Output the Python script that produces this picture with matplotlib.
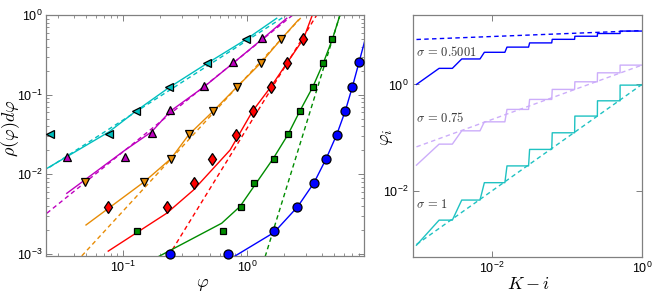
import numpy as np
import matplotlib
matplotlib.use('Agg')
import matplotlib.pyplot as plt
from matplotlib.ticker import NullLocator, FixedLocator

plt.rcParams['font.family'] = ['Liberation Sans', 'DejaVu Sans']

# ---------------- left panel data ----------------
cyan_x = [0.026, 0.077, 0.127, 0.234, 0.479, 0.976]
cyan_y = [0.0317, 0.032, 0.0622, 0.126, 0.252, 0.499]
mag_x = [0.0352, 0.104, 0.170, 0.241, 0.45, 0.776, 1.33]
mag_y = [0.0164, 0.0164, 0.0325, 0.064, 0.128, 0.256, 0.51]
org_x = [0.0497, 0.148, 0.244, 0.340, 0.535, 0.826, 1.30, 1.88]
org_y = [0.0079, 0.0080, 0.0157, 0.0317, 0.0622, 0.124, 0.252, 0.495]
red_x = [0.0753, 0.225, 0.376, 0.519, 0.815, 1.11, 1.55, 2.11, 2.85]
red_y = [0.0039, 0.0039, 0.0078, 0.0157, 0.031, 0.0622, 0.124, 0.252, 0.5]
grn_x = [0.129, 0.644, 0.889, 1.145, 1.65, 2.15, 2.68, 3.39, 4.08, 4.87]
grn_y = [0.00195, 0.00195, 0.0039, 0.0078, 0.0157, 0.0317, 0.0625, 0.124, 0.252, 0.5]
blu_x = [0.239, 0.699, 1.65, 2.55, 3.47, 4.34, 5.29, 6.21, 7.07, 8.0]
blu_y = [0.00098, 0.00098, 0.00195, 0.0039, 0.0078, 0.0157, 0.0314, 0.0627, 0.125, 0.254]

# solid fits
cyan_fx = [0.0243, 0.077, 0.127, 0.234, 0.479, 0.976, 1.735]
cyan_fy = [0.0118, 0.034, 0.062, 0.122, 0.248, 0.49, 0.91]
mag_fx = [0.0352, 0.104, 0.170, 0.241, 0.45, 0.776, 1.33, 2.09]
mag_fy = [0.00575, 0.0201, 0.034, 0.062, 0.125, 0.25, 0.5, 0.91]
org_fx = [0.0503, 0.148, 0.244, 0.340, 0.535, 0.826, 1.30, 1.88, 2.59]
org_fy = [0.0023, 0.008, 0.0157, 0.0315, 0.0622, 0.124, 0.252, 0.495, 0.865]
red_fx = [0.076, 0.225, 0.369, 0.73, 1.11, 1.55, 2.11, 2.85, 3.34]
red_fy = [0.00108, 0.00323, 0.0063, 0.0201, 0.0622, 0.124, 0.252, 0.5, 0.97]
grn_fx = [0.165, 0.625, 0.878, 1.63, 2.14, 2.68, 3.39, 4.12, 4.87, 5.62]
grn_fy = [0.00081, 0.00242, 0.00393, 0.0158, 0.0315, 0.063, 0.1245, 0.249, 0.492, 1.0]
blu_fx = [0.757, 1.65, 2.55, 3.47, 4.36, 5.29, 6.21, 7.07, 8.0, 9.12]
blu_fy = [0.00089, 0.00185, 0.00387, 0.0078, 0.0158, 0.0314, 0.0627, 0.125, 0.254, 0.545]

# dashed asymptotes
cyan_dx, cyan_dy = [0.02, 2.09], [0.00957, 1.0]
mag_dx, mag_dy = [0.0243, 2.34], [0.00323, 1.0]
org_dx, org_dy = [0.0465, 2.85], [0.00094, 1.0]
red_dx, red_dy = [0.232, 3.65], [0.00093, 1.0]
grn_dx, grn_dy = [1.40, 5.62], [0.00092, 1.0]

# ---------------- right panel data ----------------
k_x = [0.001, 0.002, 0.003, 0.004, 0.007, 0.008, 0.015, 0.016, 0.031, 0.032,
       0.063, 0.064, 0.127, 0.128, 0.255, 0.256, 0.511, 0.512, 1.0]
lev_blue = [1, 2, 3, 4, 5, 6, 7, 8, 9, 10]
lev_lav = [0.0307, 0.076, 0.135, 0.199, 0.34, 0.523, 0.806, 1.12, 1.65, 2.30]
lev_cyan = [0.00097, 0.00286, 0.0068, 0.0144, 0.0297, 0.0605, 0.124, 0.255, 0.493, 0.97]
dash_x = [0.001, 1.0]
dash_blue = [6.95, 10.2]
dash_lav = [0.0676, 2.30]
dash_cyan = [0.001, 1.0]


def steps(levels):
    lv = np.asarray(levels, dtype=float)
    return np.concatenate([[lv[0]], np.repeat(lv[1:], 2)])


C_CYAN = (0.0, 0.75, 0.75)
C_MAG = (0.75, 0.0, 0.75)
C_ORG = (0.91, 0.55, 0.02)
C_RED = (1.0, 0.0, 0.0)
C_GRN = (0.0, 0.55, 0.0)
C_BLU = (0.0, 0.0, 1.0)
C_LAV = (0.80, 0.68, 0.98)
C_CY2 = (0.12, 0.76, 0.76)
SPINE = '#808080'

fig = plt.figure(figsize=(6.54, 3.0), dpi=100)
axL = fig.add_axes([0.0711, 0.1467, 0.4855, 0.8033])
axR = fig.add_axes([0.631, 0.1443, 0.3506, 0.8057])

dash = (3.2, 2.4)
lw = 1.0
series = [
    (cyan_x, cyan_y, cyan_fx, cyan_fy, cyan_dx, cyan_dy, C_CYAN, '<', 6.3),
    (mag_x, mag_y, mag_fx, mag_fy, mag_dx, mag_dy, C_MAG, '^', 6.3),
    (org_x, org_y, org_fx, org_fy, org_dx, org_dy, C_ORG, 'v', 6.3),
    (red_x, red_y, red_fx, red_fy, red_dx, red_dy, C_RED, 'd', 6.3),
    (grn_x, grn_y, grn_fx, grn_fy, grn_dx, grn_dy, C_GRN, 's', 5.0),
    (blu_x, blu_y, blu_fx, blu_fy, None, None, C_BLU, 'o', 6.5),
]
for mx, my, fx, fy, dx, dy, col, mk, ms in series:
    axL.plot(fx, fy, '-', color=col, lw=lw, zorder=2)
    if dx is not None:
        axL.plot(dx, dy, '--', color=col, lw=lw, dashes=dash, zorder=2)
for mx, my, fx, fy, dx, dy, col, mk, ms in series:
    axL.plot(mx, my, linestyle='none', marker=mk, ms=ms, mfc=col, mec='black',
             mew=0.9, zorder=3, clip_on=False)

axL.set_xscale('log')
axL.set_yscale('log')
axL.set_xlim(0.02415, 8.78)
axL.set_ylim(0.000938, 1.0)

axR.plot(k_x, steps(lev_blue), '-', color=C_BLU, lw=1.0)
axR.plot(dash_x, dash_blue, '--', color=C_BLU, lw=1.0, dashes=dash)
axR.plot(k_x, steps(lev_lav), '-', color=C_LAV, lw=1.0)
axR.plot(dash_x, dash_lav, '--', color=C_LAV, lw=1.0, dashes=dash)
axR.plot(k_x, steps(lev_cyan), '-', color=C_CY2, lw=1.0)
axR.plot(dash_x, dash_cyan, '--', color=C_CY2, lw=1.0, dashes=dash)
axR.set_xscale('log')
axR.set_yscale('log')
axR.set_xlim(8.9e-4, 1.0)
axR.set_ylim(5.9e-4, 20)
axR.xaxis.set_major_locator(FixedLocator([1e-2, 1.0]))
axR.yaxis.set_major_locator(FixedLocator([1e-2, 1.0]))
axR.xaxis.set_minor_locator(NullLocator())
axR.yaxis.set_minor_locator(NullLocator())

tkw = dict(fontsize=9, color='#333333', math_fontfamily='cm', ha='left', va='center')
axR.text(0.001, 4.08, r'$\sigma\, =\, 0.5001$', **tkw)
axR.text(0.001, 0.23, r'$\sigma\, =\, 0.75$', **tkw)
axR.text(0.001, 0.00563, r'$\sigma\, =\, 1$', **tkw)

for ax in (axL, axR):
    for sp in ax.spines.values():
        sp.set_color(SPINE)
        sp.set_linewidth(0.9)
    ax.tick_params(which='both', direction='in', top=True, right=True,
                   color=SPINE, labelsize=9, labelcolor='black', pad=3)
    ax.tick_params(which='major', length=4, width=0.7)
    ax.tick_params(which='minor', length=2, width=0.6)

lab = dict(fontsize=13, math_fontfamily='cm', ha='center', va='center')
axL.text(-0.112, 0.531, r'$\rho(\varphi)d\varphi$', rotation=90, transform=axL.transAxes, **lab)
axL.text(0.49, -0.12, r'$\varphi$', transform=axL.transAxes, **lab)
axR.text(-0.116, 0.496, r'$\varphi_i$', rotation=90, transform=axR.transAxes, **lab)
axR.text(0.504, -0.117, r'$K-i$', transform=axR.transAxes, **lab)

fig.savefig('out.png', dpi=100)
